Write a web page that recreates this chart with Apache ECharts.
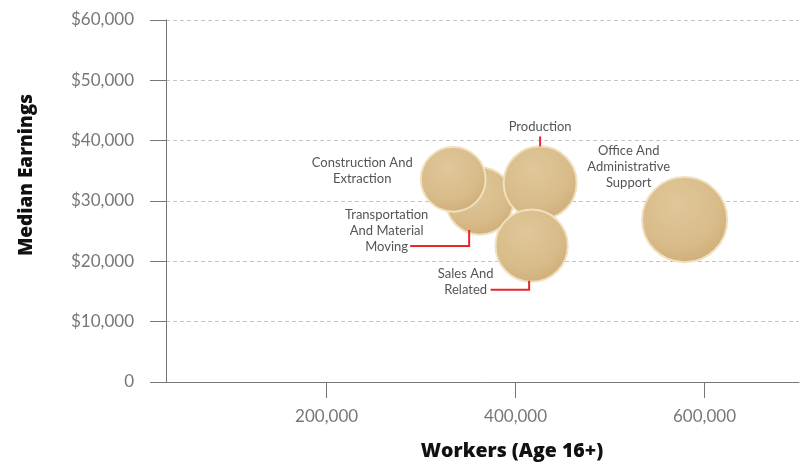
<!DOCTYPE html>
<html>
<head>
<meta charset="utf-8">
<script src="https://cdn.jsdelivr.net/npm/echarts@6/dist/echarts.min.js"></script>
<style>
  html, body { margin: 0; padding: 0; background: #fff; }
  #main { width: 804px; height: 466px; }
</style>
</head>
<body>
<div id="main"></div>
<script>
// occupations, drawn in this order so overlaps stack like the original
const categories = [
  'Transportation\nAnd Material\nMoving',
  'Construction And\nExtraction',
  'Production',
  'Sales And\nRelated',
  'Office And\nAdministrative\nSupport'
];
const workers = [362000, 334000, 426000, 417000, 579000];
const earnings = [30000, 33600, 33000, 22600, 26900];
const xTicks = [200000, 400000, 600000];

// label placement relative to bubble centre (px)
const labelOffsets = [[-93, 30], [-91, -8], [0, -56], [-66, 36], [-56, -53]];
// red leader lines, relative to bubble centre (px)
const leaders = {
  0: [[-10.5, 29], [-10.5, 45], [-69.5, 45]],
  2: [[0, -36.5], [0, -46.5]],
  3: [[-2.5, 35], [-2.5, 44], [-41, 44]]
};

const chart = echarts.init(document.getElementById('main'));

function fmtNum(v) {
  return String(v).replace(/\B(?=(\d{3})+(?!\d))/g, ',');
}

const bubbles = workers.map(function (w, i) {
  return {
    name: categories[i],
    value: [w, earnings[i]],
    label: { offset: labelOffsets[i] }
  };
});

const option = {
  animation: false,
  grid: { left: 166, right: 5, top: 20, bottom: 83 },
  xAxis: {
    type: 'value',
    min: 30000,
    max: 700000,
    name: 'Workers (Age 16+)',
    nameLocation: 'middle',
    nameGap: 59,
    nameTextStyle: {
      fontFamily: 'Open Sans', fontWeight: 800, fontSize: 19.5, color: '#111',
      padding: [0, 0, 0, 59]
    },
    axisLine: { lineStyle: { color: '#777', width: 1 } },
    axisTick: { show: true, inside: false, length: 16, customValues: xTicks, lineStyle: { color: '#777' } },
    axisLabel: {
      customValues: xTicks, margin: 26, color: '#777', fontSize: 17, fontFamily: 'Lato',
      formatter: function (v) { return fmtNum(v); }
    },
    splitLine: { show: false }
  },
  yAxis: {
    type: 'value',
    min: 0,
    max: 60000,
    interval: 10000,
    name: 'Median Earnings',
    nameLocation: 'middle',
    nameGap: 130,
    nameRotate: 90,
    nameTextStyle: {
      fontFamily: 'Open Sans', fontWeight: 800, fontSize: 19, color: '#111',
      padding: [0, 0, 0, 52]
    },
    axisLine: { show: true, lineStyle: { color: '#777', width: 1 } },
    axisTick: { show: true, inside: false, length: 16, lineStyle: { color: '#777' } },
    axisLabel: {
      margin: 32, color: '#777', fontSize: 17, fontFamily: 'Lato',
      formatter: function (v) { return v === 0 ? '0' : '$' + fmtNum(v); }
    },
    splitLine: { show: true, lineStyle: { color: '#c4c4c4', type: [4, 3], width: 1 } }
  },
  series: [{
    type: 'scatter',
    data: bubbles,
    symbolSize: function (val) { return 3.54 * Math.sqrt(val[0] / 1000); },
    itemStyle: {
      color: {
        type: 'radial', x: 0.42, y: 0.32, r: 0.7,
        colorStops: [
          { offset: 0, color: '#e0c799' },
          { offset: 0.7, color: '#d8bb89' },
          { offset: 1, color: '#cfae78' }
        ]
      },
      borderColor: '#f1e0be',
      borderWidth: 2,
      opacity: 1
    },
    label: {
      show: true,
      position: 'inside',
      formatter: '{b}',
      color: '#555',
      fontFamily: 'Lato',
      fontSize: 13,
      lineHeight: 16,
      align: 'center'
    },
    emphasis: { disabled: true },
    z: 3
  }]
};

chart.setOption(option);

// leader lines positioned from the data points through the chart's own scales
const lines = [];
Object.keys(leaders).forEach(function (k) {
  const i = +k;
  const c = chart.convertToPixel({ seriesIndex: 0 }, [workers[i], earnings[i]]);
  lines.push({
    type: 'polyline',
    z: 10,
    shape: { points: leaders[k].map(function (p) { return [c[0] + p[0], c[1] + p[1]]; }) },
    style: { stroke: '#e8262b', lineWidth: 2, fill: null }
  });
});
chart.setOption({ graphic: lines });
</script>
</body>
</html>
